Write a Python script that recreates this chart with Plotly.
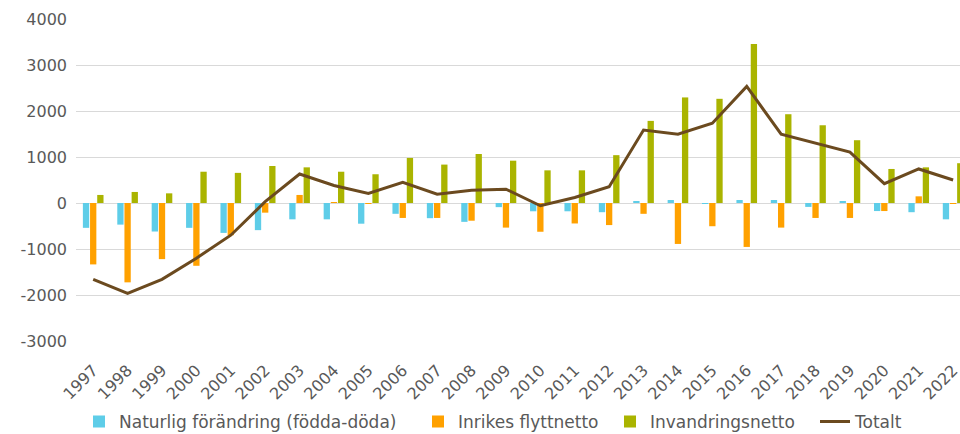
import plotly.graph_objects as go

years = [str(y) for y in range(1997, 2023)]
naturlig = [-540, -470, -620, -540, -650, -590, -355, -355, -450, -235, -330, -410, -90, -180,
            -180, -200, 35, 65, -10, 65, 65, -85, 30, -175, -200, -355]
inrikes = [-1335, -1725, -1220, -1365, -700, -210, 175, 20, -20, -325, -325, -385, -535, -625,
           -445, -480, -235, -890, -505, -955, -535, -325, -325, -175, 145, -20]
invandring = [175, 240, 210, 680, 655, 805, 775, 680, 625, 980, 835, 1065, 920, 710,
              710, 1040, 1785, 2295, 2265, 3455, 1930, 1690, 1365, 740, 775, 865]
totalt = [-1660, -1965, -1660, -1200, -700, 30, 630, 380, 210, 450, 190, 275, 300, -60,
          120, 355, 1585, 1495, 1735, 2535, 1495, 1300, 1105, 420, 740, 500]

ytick_vals = [-3000, -2000, -1000, 0, 1000, 2000, 3000, 4000]
ytick_text = [str(v) for v in ytick_vals]

font_family = "DejaVu Sans, Liberation Sans, Arial, sans-serif"
txt_color = "#595959"

fig = go.Figure()
fig.add_trace(go.Bar(x=years, y=naturlig, name="Naturlig förändring (födda-döda)",
                     marker=dict(color="#5ECDE8", line=dict(width=0)), legend="legend"))
fig.add_trace(go.Bar(x=years, y=inrikes, name="Inrikes flyttnetto",
                     marker=dict(color="#FFA100", line=dict(width=0)), legend="legend2"))
fig.add_trace(go.Bar(x=years, y=invandring, name="Invandringsnetto",
                     marker=dict(color="#AAB400", line=dict(width=0)), legend="legend3"))
fig.add_trace(go.Scatter(x=years, y=totalt, name="Totalt", mode="lines",
                         line=dict(color="#6B4A1F", width=3), legend="legend4"))

legend_common = dict(orientation="h", xref="container", yref="container",
                     xanchor="left", yanchor="middle", y=0.028,
                     font=dict(size=17, color=txt_color, family=font_family),
                     bgcolor="rgba(0,0,0,0)")

fig.update_layout(
    width=960, height=434,
    margin=dict(l=76, r=0, t=19, b=93, autoexpand=False),
    plot_bgcolor="white", paper_bgcolor="white",
    barmode="group", bargap=0.375, bargroupgap=0.12,
    font=dict(family=font_family, size=16, color=txt_color),
    showlegend=True,
    legend=dict(x=79 / 960, **legend_common),
    legend2=dict(x=418 / 960, **legend_common),
    legend3=dict(x=610 / 960, **legend_common),
    legend4=dict(x=815 / 960, **legend_common),
)
fig.update_xaxes(type="category", range=[-0.5, 25.2], tickangle=-45,
                 showgrid=False, showline=False, ticks="", automargin=False,
                 ticklabelstandoff=16,
                 tickfont=dict(size=16, color=txt_color))
fig.update_yaxes(range=[-3000, 4000], tickvals=ytick_vals, ticktext=ytick_text,
                 showgrid=True, gridcolor="#D9D9D9", gridwidth=1,
                 zeroline=True, zerolinecolor="#D9D9D9", zerolinewidth=1,
                 showline=False, ticks="", ticklabelstandoff=8, automargin=False,
                 tickfont=dict(size=16, color=txt_color))

fig.write_html("out.html", config={"displayModeBar": False},
               post_script="document.body.style.margin='0';document.body.style.overflow='hidden';")
